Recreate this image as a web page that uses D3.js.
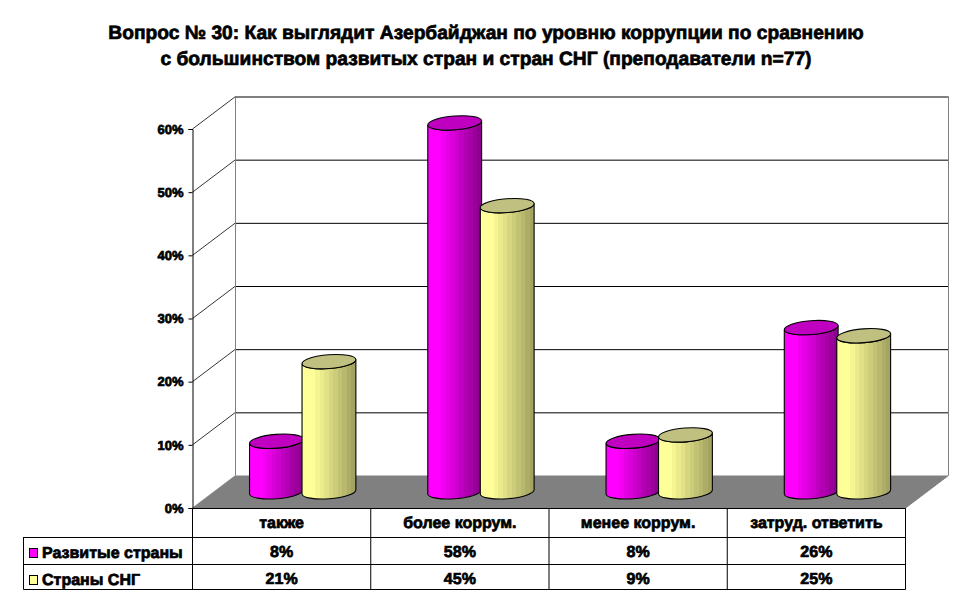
<!DOCTYPE html>
<html><head><meta charset="utf-8">
<script src="https://cdnjs.cloudflare.com/ajax/libs/d3/7.8.5/d3.min.js"></script>
<style>
html,body{margin:0;padding:0;background:#fff}
svg{display:block}
text{font-family:"Liberation Sans",Arial,sans-serif;font-weight:bold;fill:#000;stroke:#000;stroke-width:.7px;text-rendering:geometricPrecision}
</style></head><body><svg id="c" width="970" height="604"></svg>
<script>
const titleLines = ["Вопрос № 30: Как выглядит Азербайджан по уровню коррупции по сравнению","с большинством развитых стран и стран СНГ (преподаватели n=77)"];
const categories = ["также","более коррум.","менее коррум.","затруд. ответить"];
const seriesNames = ["Развитые страны","Страны СНГ"];
const developed = [8,58.4,8,26];
const cis = [20.6,45.3,9,24.7];
const yTicks = [0,10,20,30,40,50,60];
const sideColors = [["#ff00ff","#800080"],["#ffff99","#99995c"]];
const topColors = ["#c000c0","#c0c080"];
const seriesValues = [developed,cis];

const svg = d3.select("#c");
const L=192.5,R=905.5,DX=43,DY=32.5;
const y = d3.scaleLinear().domain([0,60]).range([508,129]);
const x = d3.scaleBand().domain(categories).range([L,R]);
const inner = d3.scaleBand().domain([0,1]).range([57.7,162.7]).padding(0);
const baseLift = 16.2, rx = 27, ry = 6.9, tilt = -4.5, rad = tilt*Math.PI/180;

// gradients
const defs = svg.append("defs");
sideColors.forEach((c,i)=>{
  const g = defs.append("linearGradient").attr("id","g"+i).attr("x1",0).attr("x2",1).attr("y1",0).attr("y2",0);
  const mix = d3.interpolateRgb(c[0],c[1]);
  const n=12;
  for(let k=0;k<n;k++){
    const t = k/n;
    const v = t<.17?0:(t-.17)/.83;
    g.append("stop").attr("offset",t).attr("stop-color",mix(v));
    g.append("stop").attr("offset",(k+1)/n).attr("stop-color",mix(v));
  }
});

// title
svg.append("g").selectAll("text").data(titleLines).join("text")
  .attr("x",486).attr("y",(d,i)=>39+i*25.5).attr("text-anchor","middle")
  .attr("font-size",19.2).text(d=>d);

// walls and floor
const B=y(0);
svg.append("polygon").attr("fill","#808080")
  .attr("points",[[L,B],[L+DX,B-DY],[R+DX,B-DY],[R,B]].join(" "));
const grid = svg.append("g");
yTicks.filter(d=>d>0).forEach(t=>{
  grid.append("line").attr("x1",L+DX).attr("x2",R+DX).attr("y1",y(t)-DY+.5).attr("y2",y(t)-DY+.5).attr("stroke","#000").attr("stroke-width",1);
});
yTicks.forEach(t=>{
  grid.append("line").attr("x1",L).attr("y1",y(t)).attr("x2",L+DX).attr("y2",y(t)-DY)
    .attr("stroke",t===0?"#808080":"#000").attr("stroke-width",.8);
});
grid.append("line").attr("x1",L+DX).attr("x2",L+DX).attr("y1",y(60)-DY).attr("y2",B-DY).attr("stroke","#808080");
grid.append("line").attr("x1",R+DX).attr("x2",R+DX).attr("y1",y(60)-DY).attr("y2",B-DY).attr("stroke","#808080");
grid.append("line").attr("x1",R).attr("x2",R+DX).attr("y1",B).attr("y2",B-DY).attr("stroke","#808080");

// axis
const axis = svg.append("g").attr("transform",`translate(${L},0)`)
  .call(d3.axisLeft(y).tickValues(yTicks).tickFormat(d=>d+"%").tickSize(4).tickPadding(5));
axis.selectAll("path,line").attr("stroke","#000");
axis.selectAll("text").attr("font-size",13).attr("font-family",null);

// cylinders
const dxT = rx*Math.cos(rad), dyT = rx*Math.sin(rad);
function side(cx,yt,yb){
  return `M${cx-dxT},${yt-dyT}L${cx-dxT},${yb-dyT}A${rx},${ry} ${tilt} 0 0 ${cx+dxT},${yb+dyT}L${cx+dxT},${yt+dyT}A${rx},${ry} ${tilt} 0 1 ${cx-dxT},${yt-dyT}Z`;
}
const bars = svg.append("g").attr("stroke","#000").attr("stroke-width",1.1);
categories.forEach((cat,ci)=>{
  seriesValues.forEach((vals,si)=>{
    const cx = x(cat)+inner(si)+inner.bandwidth()/2;
    const yt = y(vals[ci])-baseLift, yb = y(0)-baseLift;
    bars.append("path").attr("d",side(cx,yt,yb)).attr("fill",`url(#g${si})`);
    bars.append("ellipse").attr("cx",cx).attr("cy",yt).attr("rx",rx).attr("ry",ry)
      .attr("transform",`rotate(${tilt} ${cx} ${yt})`).attr("fill",topColors[si]);
  });
});

// table
const rowY=[508,537,564,589], LT=23.5;
const tbl = svg.append("g").attr("stroke","#000").attr("stroke-width",1);
rowY.forEach((ry0,i)=>{
  tbl.append("line").attr("x1",i===0?L:LT).attr("x2",R).attr("y1",ry0+.5).attr("y2",ry0+.5);
});
[...categories.map(c=>x(c)),R].forEach(px=>{
  tbl.append("line").attr("x1",px).attr("x2",px).attr("y1",508).attr("y2",589.5);
});
tbl.append("line").attr("x1",LT).attr("x2",LT).attr("y1",537).attr("y2",589.5);

svg.append("g").selectAll("text").data(categories).join("text")
  .attr("x",d=>x(d)+x.bandwidth()/2).attr("y",528).attr("text-anchor","middle")
  .attr("font-size",16).text(d=>d);
seriesNames.forEach((name,si)=>{
  const rowMid=[555,582][si];
  svg.append("rect").attr("x",29.5).attr("y",rowMid-6.5).attr("width",8).attr("height",9)
    .attr("fill",sideColors[si][0]).attr("stroke","#000");
  svg.append("text").attr("x",42).attr("y",rowMid+3).attr("font-size",16).text(name);
  svg.append("g").selectAll("text").data(seriesValues[si]).join("text")
    .attr("x",(d,i)=>x(categories[i])+x.bandwidth()/2).attr("y",rowMid+2)
    .attr("text-anchor","middle").attr("font-size",16).text(d=>Math.round(d)+"%");
});
</script></body></html>
